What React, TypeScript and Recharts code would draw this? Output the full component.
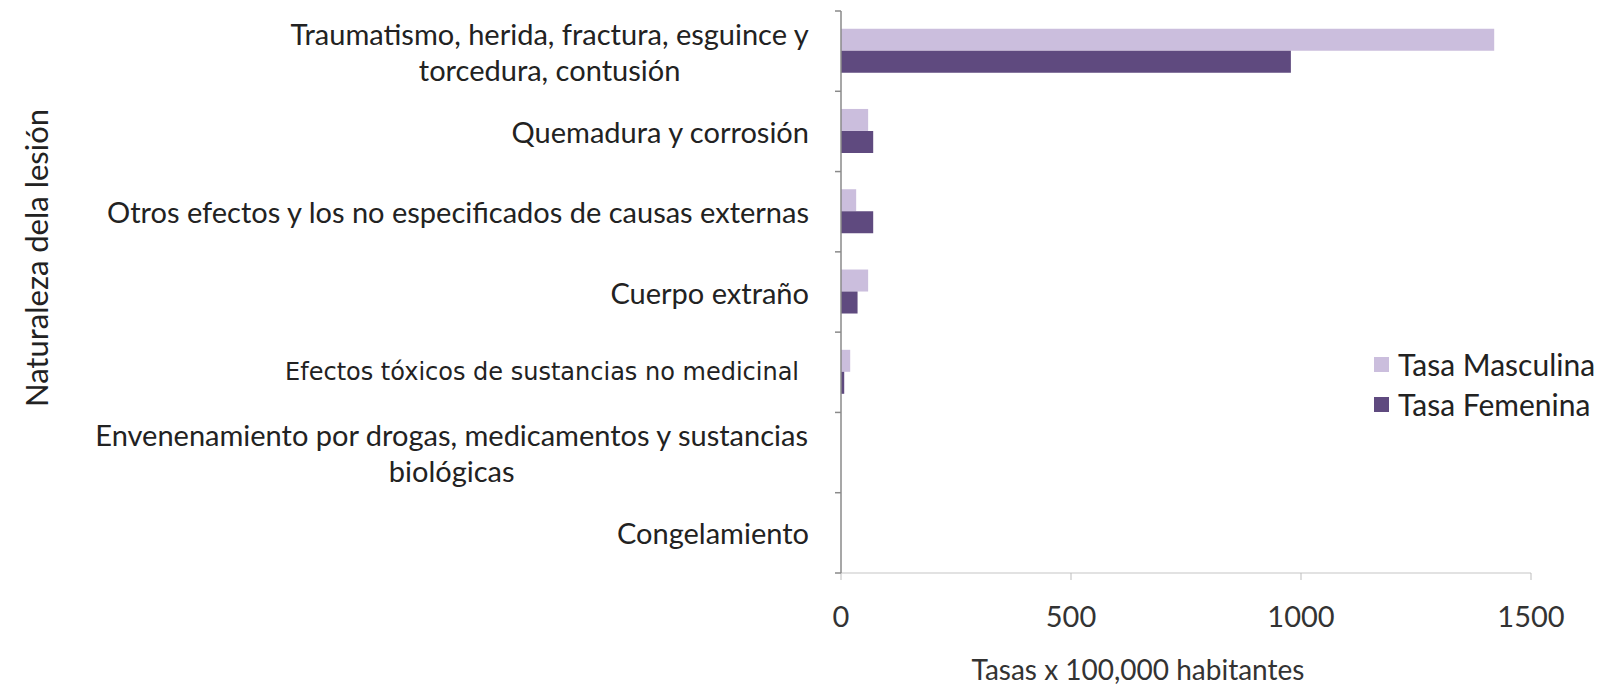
import { BarChart, Bar, XAxis, YAxis, Legend } from 'recharts';

const categories = [
  'Traumatismo, herida, fractura, esguince y\ntorcedura, contusión',
  'Quemadura y corrosión',
  'Otros efectos y los no especificados de causas externas',
  'Cuerpo extraño',
  'Efectos tóxicos de sustancias no medicinal',
  'Envenenamiento por drogas, medicamentos y sustancias\nbiológicas',
  'Congelamiento',
];
const tasaMasculina = [1420, 59, 33, 59, 20, 0, 0];
const tasaFemenina = [978, 70, 70, 36, 7, 0, 0];
const xTicks = [0, 500, 1000, 1500];

const MASC = '#cbbedd';
const FEM = '#5f4a7f';
const FONT = 'Lato, "Noto Sans", sans-serif';

const data = categories.map((name, i) => ({
  name,
  masc: tasaMasculina[i],
  fem: tasaFemenina[i],
}));

let ctx: CanvasRenderingContext2D | null = null;
function textWidth(s: string, font: string) {
  if (!ctx) ctx = document.createElement('canvas').getContext('2d');
  if (!ctx) return s.length * 12;
  ctx.font = font;
  return ctx.measureText(s).width;
}

function CategoryTick(props: any) {
  const { x, y, payload, index } = props;
  const half = payload?.offset ?? 40;
  const lines: string[] = String(payload.value).split('\n');
  // the 5th label uses a different, smaller face in the original
  const odd = index === 4;
  const size = odd ? 24 : 29;
  const family = odd ? '"DejaVu Sans", sans-serif' : FONT;
  const right = x - (odd ? 42 : 32);
  const widths = lines.map(l => textWidth(l, `${size}px ${family}`));
  const maxW = Math.max(...widths);
  const lh = 36;
  const last = index === categories.length - 1;
  return (
    <g>
      <line x1={x - 6} x2={x} y1={y - half} y2={y - half} stroke="#8a8a8a" strokeWidth={1.5} />
      {last && <line x1={x - 6} x2={x} y1={y + half} y2={y + half} stroke="#8a8a8a" strokeWidth={1.5} />}
      {lines.map((l, i) => (
        <text
          key={i}
          x={lines.length > 1 ? right - maxW / 2 : right}
          y={y + (i - (lines.length - 1) / 2) * lh}
          textAnchor={lines.length > 1 ? 'middle' : 'end'}
          dominantBaseline="central"
          fontFamily={family}
          fontSize={size}
          fill="#222"
        >
          {l}
        </text>
      ))}
    </g>
  );
}

function ValueTick(props: any) {
  const { x, y, payload } = props;
  return (
    <text x={x} y={y + 47} textAnchor="middle" fontFamily={FONT} fontSize={29} fill="#333">
      {payload.value}
    </text>
  );
}

function LegendBox() {
  const items = [
    { label: 'Tasa Masculina', color: MASC },
    { label: 'Tasa Femenina', color: FEM },
  ];
  return (
    <div>
      {items.map(it => (
        <div key={it.label} style={{ display: 'flex', alignItems: 'center', height: 40 }}>
          <span style={{ width: 15, height: 15, background: it.color, marginRight: 9, display: 'inline-block' }} />
          <span style={{ fontFamily: FONT, fontSize: 30, color: '#222' }}>{it.label}</span>
        </div>
      ))}
    </div>
  );
}

export default function App() {
  return (
    <div style={{ position: 'absolute', left: 0, top: 0, width: 1604, height: 688, background: '#fff' }}>
      <BarChart
        width={1604}
        height={688}
        data={data}
        layout="vertical"
        margin={{ top: 11, right: 73, left: 0, bottom: 0 }}
        barCategoryGap="22%"
        barGap={0}
      >
        <XAxis
          type="number"
          domain={[0, 1500]}
          ticks={xTicks}
          height={115}
          axisLine={{ stroke: '#d9d9d9', strokeWidth: 1.5 }}
          tickLine={{ stroke: '#bdbdbd' }}
          tickSize={7}
          tickMargin={0}
          tick={<ValueTick />}
          label={{
            content: ({ viewBox }: any) => (
              <text
                x={viewBox.x + viewBox.width / 2 - 48}
                y={viewBox.y + 107}
                textAnchor="middle"
                fontFamily={FONT}
                fontSize={28}
                fill="#333"
              >
                Tasas x 100,000 habitantes
              </text>
            ),
          }}
        />
        <YAxis
          type="category"
          dataKey="name"
          width={841}
          axisLine={{ stroke: '#8a8a8a', strokeWidth: 1.5 }}
          tickLine={false}
          tickSize={0}
          tickMargin={0}
          tick={<CategoryTick />}
          interval={0}
          label={{
            content: () => (
              <text
                x={36}
                y={258}
                transform="rotate(-90 36 258)"
                textAnchor="middle"
                dominantBaseline="central"
                fontFamily={FONT}
                fontSize={31}
                fill="#222"
              >
                Naturaleza dela lesión
              </text>
            ),
          }}
        />
        <Legend
          layout="horizontal"
          verticalAlign="middle"
          align="center"
          content={<LegendBox />}
          wrapperStyle={{ position: 'absolute', left: 1374, top: 344, width: 230 }}
        />
        <Bar dataKey="masc" name="Tasa Masculina" fill={MASC} isAnimationActive={false} />
        <Bar dataKey="fem" name="Tasa Femenina" fill={FEM} isAnimationActive={false} />
      </BarChart>
    </div>
  );
}
